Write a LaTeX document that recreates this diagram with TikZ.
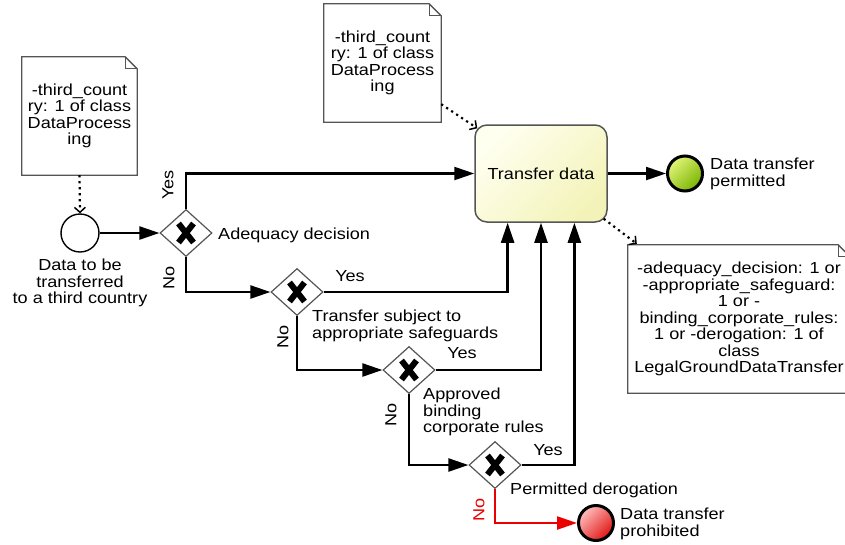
\documentclass[tikz,border=0pt]{standalone}
\usepackage{fontspec}
\setmainfont{Liberation Sans}[FakeStretch=1.13]
\usetikzlibrary{shapes.geometric,arrows.meta,calc}
\newcommand\lbltext{\fontsize{16}{16.5}\selectfont}
\definecolor{edgegray}{RGB}{85,85,85}
\definecolor{tasklight}{RGB}{255,255,240}
\definecolor{taskdark}{RGB}{243,243,185}
\definecolor{greenlight}{RGB}{225,245,120}
\definecolor{greendark}{RGB}{120,180,0}
\definecolor{redlight}{RGB}{255,190,190}
\definecolor{reddark}{RGB}{225,20,20}
\definecolor{flowred}{RGB}{235,0,0}
% outline of a text annotation with a folded corner
\newcommand\notefold[1]{%
  \draw[notefrm] (#1.north west) -- ($(#1.north east)+(-12,0)$) -- ($(#1.north east)+(0,12)$)
    -- (#1.south east) -- (#1.south west) -- cycle;
  \draw[notefrm] ($(#1.north east)+(-12,0)$) -- ($(#1.north east)+(-12,12)$) -- ($(#1.north east)+(0,12)$);}
% heavy cross drawn inside an exclusive gateway
\newcommand\gatecross[1]{%
  \draw[crossmark] ($(#1)+(-7.5,-9.5)$) -- ($(#1)+(7.5,9.5)$);
  \draw[crossmark] ($(#1)+(-7.5,9.5)$) -- ($(#1)+(7.5,-9.5)$);}
\begin{document}
\begin{tikzpicture}[x=1pt,y=-1pt,
  every node/.style={font=\lbltext, inner sep=0pt},
  flow/.style={line width=2.3pt,-{Triangle[length=20pt,width=13pt]}},
  assoc/.style={line width=2.2pt, dash pattern=on 2.2pt off 3.8pt,
    -{Straight Barb[length=5pt,width=11pt,line width=1.5pt]}},
  gate/.style={diamond, draw=edgegray, line width=1.2pt, fill=white,
    minimum width=52pt, minimum height=47pt},
  crossmark/.style={line width=6pt, line cap=butt},
  startev/.style={circle, draw=black, line width=1.4pt, fill=white, minimum size=38pt},
  endev/.style={circle, draw=black, line width=3pt, minimum size=35pt},
  notefrm/.style={draw=edgegray, line width=1.3pt},
  note/.style={align=center},
  yesno/.style={rotate=90}]
\useasboundingbox (0,0) rectangle (845,544);
\clip (0,0) rectangle (845,544);

% annotations
\node[note, minimum width=115pt, minimum height=118pt] (n1) at (79.5,116)
  {-third\_count\\ry: 1 of class\\DataProcess\\ing};
\notefold{n1}
\node[note, minimum width=117pt, minimum height=118pt] (n2) at (382.5,63)
  {-third\_count\\ry: 1 of class\\DataProcess\\ing};
\notefold{n2}
\node[note, minimum width=222pt, minimum height=148pt] (n3) at (739,319)
  {-adequacy\_decision: 1 or\\-appropriate\_safeguard:\\1 or -\\binding\_corporate\_rules:\\1 or -derogation: 1 of\\class\\LegalGroundDataTransfer};
\notefold{n3}

% events, task and gateways
\node[startev] (start) at (80,233) {};
\node[align=center] (startlbl) at (80,283) {Data to be\\transferred\\to a third country};
\node[draw=edgegray, line width=1.5pt, rounded corners=12pt, minimum width=132pt, minimum height=97pt,
  shading=axis, top color=tasklight, bottom color=taskdark, shading angle=45] (task) at (541,173.5) {Transfer data};
\node[endev, shading=axis, top color=greenlight, bottom color=greendark, shading angle=45] (ok) at (685,173.5) {};
\node[anchor=west, align=left] (oklbl) at (710,174) {Data transfer\\permitted};
\node[endev, shading=axis, top color=redlight, bottom color=reddark, shading angle=45] (stop) at (596,523) {};
\node[anchor=west, align=left] (stoplbl) at (620,524) {Data transfer\\prohibited};

\node[gate] (g1) at (186,233) {};
\node[gate] (g2) at (297,292) {};
\node[gate] (g3) at (409,370) {};
\node[gate] (g4) at (495,465) {};
\gatecross{g1}
\gatecross{g2}
\gatecross{g3}
\gatecross{g4}

\node[anchor=west] (g1lbl) at (218,235) {Adequacy decision};
\node[anchor=west, align=left] (g2lbl) at (312,326) {Transfer subject to\\appropriate safeguards};
\node[anchor=west, align=left] (g3lbl) at (423,412) {Approved\\binding\\corporate rules};
\node[anchor=west] (g4lbl) at (510,490) {Permitted derogation};

% entry points on the lower edge of the task
\coordinate (in1) at ($(task.south west)!0.25!(task.south east)$);
\coordinate (in2) at ($(task.south west)!0.5!(task.south east)$);
\coordinate (in3) at ($(task.south west)!0.75!(task.south east)$);

% sequence flows
\draw[flow] (start) -- (g1);
\draw[flow] (g1.north) |- (task.west);
\draw[flow] (g1.south) |- (g2.west);
\draw[flow] (g2.east) -| (in1);
\draw[flow] (g2.south) |- (g3.west);
\draw[flow] (g3.east) -| (in2);
\draw[flow] (g3.south) |- (g4.west);
\draw[flow] (g4.east) -| (in3);
\draw[flow, color=flowred] (g4.south) |- (stop.west);
\draw[flow] (task.east) -- (ok.west);

% associations
\draw[assoc] (n1.south) -- (start.north);
\draw[assoc] ($(n2.south east)+(0,-18)$) -- ($(task.north west)+(3,4)$);
\draw[assoc] ($(task.south east)+(-4,-4)$) -- ($(n3.north west)+(9,-1)$);

% branch labels
\node[yesno] (y1) at (168,185) {Yes};
\node[yesno] (no1) at (169,278) {No};
\node (y2) at (350,276) {Yes};
\node[yesno] (no2) at (283,337) {No};
\node (y3) at (462,353) {Yes};
\node[yesno] (no3) at (391,415) {No};
\node (y4) at (548,450) {Yes};
\node[yesno, text=flowred] (no4) at (479,510) {No};
\end{tikzpicture}
\end{document}
